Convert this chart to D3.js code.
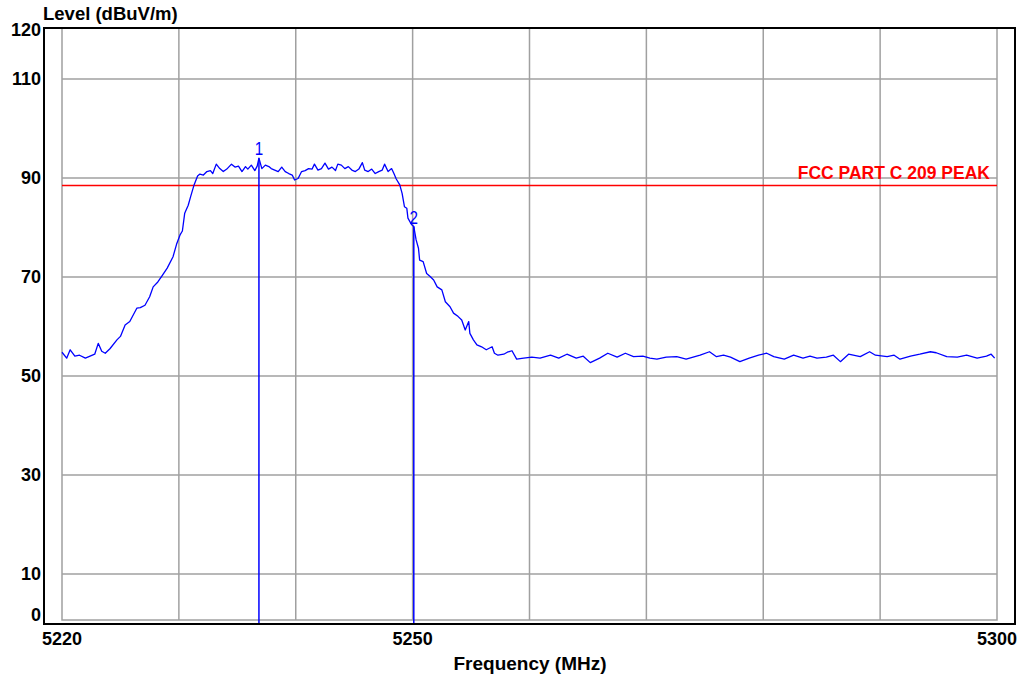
<!DOCTYPE html>
<html><head><meta charset="utf-8">
<script src="https://cdn.jsdelivr.net/npm/d3@7"></script>
<style>body{margin:0;background:#fff}svg{display:block}</style>
</head><body>
<script>
// ---- data ----
const freqs = [
5220.0,5220.4,5220.7,5221.1,5221.5,5222.0,5222.4,5222.8,5223.1,5223.4,5223.7,5224.1,5224.7,5225.0,5225.4,5225.8,
5226.4,5226.7,5227.1,5227.5,5227.8,5228.2,5228.6,5229.0,5229.5,5229.8,5230.1,5230.3,5230.5,5230.8,5231.0,5231.3,5231.6,
5231.8,5232.1,5232.4,5232.7,5232.9,5233.2,5233.5,5233.8,5234.1,5234.5,5234.8,5235.1,5235.4,5235.7,5235.9,5236.2,5236.5,5236.7,5236.85,
5237.1,5237.4,5237.7,5237.9,5238.2,5238.5,5238.8,5239.1,5239.4,5239.7,5239.9,5240.2,5240.5,5240.8,5241.1,5241.4,5241.6,5241.9,
5242.2,5242.5,5242.8,5243.1,5243.4,5243.6,5243.9,5244.2,5244.5,5244.8,5245.1,5245.4,5245.7,5245.9,5246.2,5246.5,5246.8,5247.1,
5247.4,5247.6,5247.9,5248.2,5248.4,5248.6,5248.9,5249.1,5249.3,5249.5,5249.6,5249.9,5250.1,5250.3,5250.5,5250.6,5250.9,5251.2,
5251.5,5251.8,5252.1,5252.5,5252.8,5253.2,5253.5,5253.9,5254.2,5254.5,5254.8,5254.9,5255.2,5255.5,5255.9,5256.3,5256.8,5257.0,
5257.3,5257.8,5258.1,5258.5,5258.9,5259.5,5260.2,5260.9,5261.8,5262.5,5263.2,5264.0,5264.6,5265.2,5266.0,5266.7,5267.5,5268.2,
5268.9,5269.7,5270.3,5270.9,5271.7,5272.6,5273.4,5274.0,5274.6,5275.4,5276.0,5276.6,5277.2,5278.0,5278.8,5279.6,5280.3,5280.9,
5281.8,5282.6,5283.4,5284.0,5284.6,5285.4,5286.0,5286.6,5287.3,5288.3,5289.1,5289.6,5290.6,5291.2,5291.7,5292.6,5293.4,5294.3,
5294.8,5295.7,5296.6,5297.4,5298.3,5299.1,5299.5,5299.8
];
const levels = [
54.8,53.6,55.3,54.0,54.2,53.6,54.0,54.4,56.6,55.0,54.6,55.5,57.3,58.0,60.3,61.0,
63.7,63.8,64.3,66.0,68.0,69.0,70.4,71.8,74.1,76.6,78.5,79.3,82.9,84.5,86.2,88.6,90.4,
90.8,90.6,91.3,91.5,90.9,92.8,91.9,91.3,91.8,92.8,92.2,92.4,91.3,92.3,91.8,92.6,91.5,92.4,94.0,
91.9,92.6,92.3,91.9,91.6,91.3,92.2,91.3,90.9,90.6,89.6,89.9,91.3,91.5,91.9,91.8,92.8,91.6,
91.9,93.0,91.8,92.2,91.5,92.8,92.6,91.9,92.3,91.6,91.3,91.8,93.1,91.6,91.3,91.8,90.9,91.3,
91.6,92.8,91.3,91.9,90.9,89.8,88.6,86.9,84.2,83.9,81.9,80.6,80.2,77.5,75.8,73.4,73.1,70.7,
70.1,69.4,68.0,67.4,65.0,64.0,62.7,62.0,61.3,59.3,61.0,58.6,57.3,56.3,55.9,55.3,55.9,54.6,
54.2,54.4,54.8,55.1,53.4,53.6,53.8,53.6,54.2,53.6,54.4,53.6,54.0,52.7,53.6,54.6,53.8,54.6,
53.9,54.0,53.6,53.4,53.8,53.9,53.4,53.8,54.2,54.9,53.9,54.2,53.8,52.9,53.6,54.2,54.6,53.9,
53.4,54.2,53.6,54.0,53.6,53.8,54.2,52.9,54.4,53.9,54.9,54.2,53.9,54.2,53.4,54.0,54.4,54.9,
54.7,53.9,53.8,54.2,53.6,54.0,54.4,53.6
];
const yTickLabels = [120,110,90,70,50,30,10,0];
const yGridLevels = [110,90,70,50,30,10];
const xGridFreqs = [5230,5240,5250,5260,5270,5280,5290];
const xTickLabels = [5220,5250,5300];
const limitLevel = 88.5;
const limitLabel = "FCC PART C 209 PEAK";
const markerFreqs = [5236.85,5250.1];
const markerLevels = [94.0,80.2];
const markerNames = ["1","2"];
const yTitle = "Level (dBuV/m)";
const xTitle = "Frequency (MHz)";

// ---- layout ----
const W = 1023, H = 678;
const gL = 62, gR = 997, gT = 28, gB = 620;   // gray grid box
const fL = 44, fR = 1015, fT = 28, fB = 624;  // black frame
const x = d3.scaleLinear().domain([5220,5300]).range([gL,gR]);
const y = d3.scaleLinear().domain([0,120]).range([623.5,29.5]);
const font = "'Liberation Sans', Arial, sans-serif";

const svg = d3.select("body").append("svg").attr("width",W).attr("height",H);

// grid
const grid = svg.append("g").attr("stroke","#a0a0a0").attr("stroke-width",1.5);
grid.selectAll("line.h").data(yGridLevels).join("line").attr("class","h")
  .attr("x1",gL).attr("x2",gR).attr("y1",d=>y(d)).attr("y2",d=>y(d));
grid.selectAll("line.v").data(xGridFreqs).join("line").attr("class","v")
  .attr("x1",d=>x(d)).attr("x2",d=>x(d)).attr("y1",gT).attr("y2",gB);
grid.append("rect").attr("x",gL).attr("y",gT).attr("width",gR-gL).attr("height",gB-gT).attr("fill","none");

// limit line
svg.append("line").attr("x1",gL).attr("x2",gR).attr("y1",y(limitLevel)).attr("y2",y(limitLevel))
  .attr("stroke","#ff0000").attr("stroke-width",1.5);
svg.append("text").attr("x",990).attr("y",y(limitLevel)-6).attr("text-anchor","end")
  .attr("font-family",font).attr("font-weight","bold").attr("font-size",17.5).attr("fill","#ff0000")
  .text(limitLabel);

// trace
const line = d3.line().x((d,i)=>x(freqs[i])).y(d=>y(d));
svg.append("path").datum(levels).attr("d",line).attr("fill","none")
  .attr("stroke","#0000ff").attr("stroke-width",1.3).attr("stroke-linejoin","round");

// markers
const mk = svg.append("g");
mk.selectAll("line").data(markerFreqs).join("line")
  .attr("x1",d=>x(d)).attr("x2",d=>x(d)).attr("y1",(d,i)=>y(markerLevels[i])).attr("y2",fB)
  .attr("stroke","#0000ff").attr("stroke-width",1.5);
mk.selectAll("text").data(markerFreqs).join("text")
  .attr("transform",(d,i)=>`translate(${x(d)},${y(markerLevels[i])-3}) scale(0.8,1)`)
  .attr("text-anchor","middle").attr("font-family",font).attr("font-size",19).attr("fill","#0000ff")
  .text((d,i)=>markerNames[i]);

// frame
svg.append("rect").attr("x",fL).attr("y",fT).attr("width",fR-fL).attr("height",fB-fT)
  .attr("fill","none").attr("stroke","#000").attr("stroke-width",2);

// y labels
svg.append("g").selectAll("text").data(yTickLabels).join("text")
  .attr("x",41).attr("y",d=>Math.min(y(d),615)).attr("dy","0.36em").attr("text-anchor","end")
  .attr("font-family",font).attr("font-weight","bold").attr("font-size",18).attr("fill","#000")
  .text(d=>d);
// x labels
svg.append("g").selectAll("text").data(xTickLabels).join("text")
  .attr("x",d=>x(d)).attr("y",645).attr("text-anchor","middle")
  .attr("font-family",font).attr("font-weight","bold").attr("font-size",18).attr("fill","#000")
  .text(d=>d);

svg.append("text").attr("x",43).attr("y",20).attr("font-family",font).attr("font-weight","bold")
  .attr("font-size",18.5).text(yTitle);
svg.append("text").attr("x",530).attr("y",670).attr("text-anchor","middle").attr("font-family",font)
  .attr("font-weight","bold").attr("font-size",19).text(xTitle);
</script>
</body></html>
